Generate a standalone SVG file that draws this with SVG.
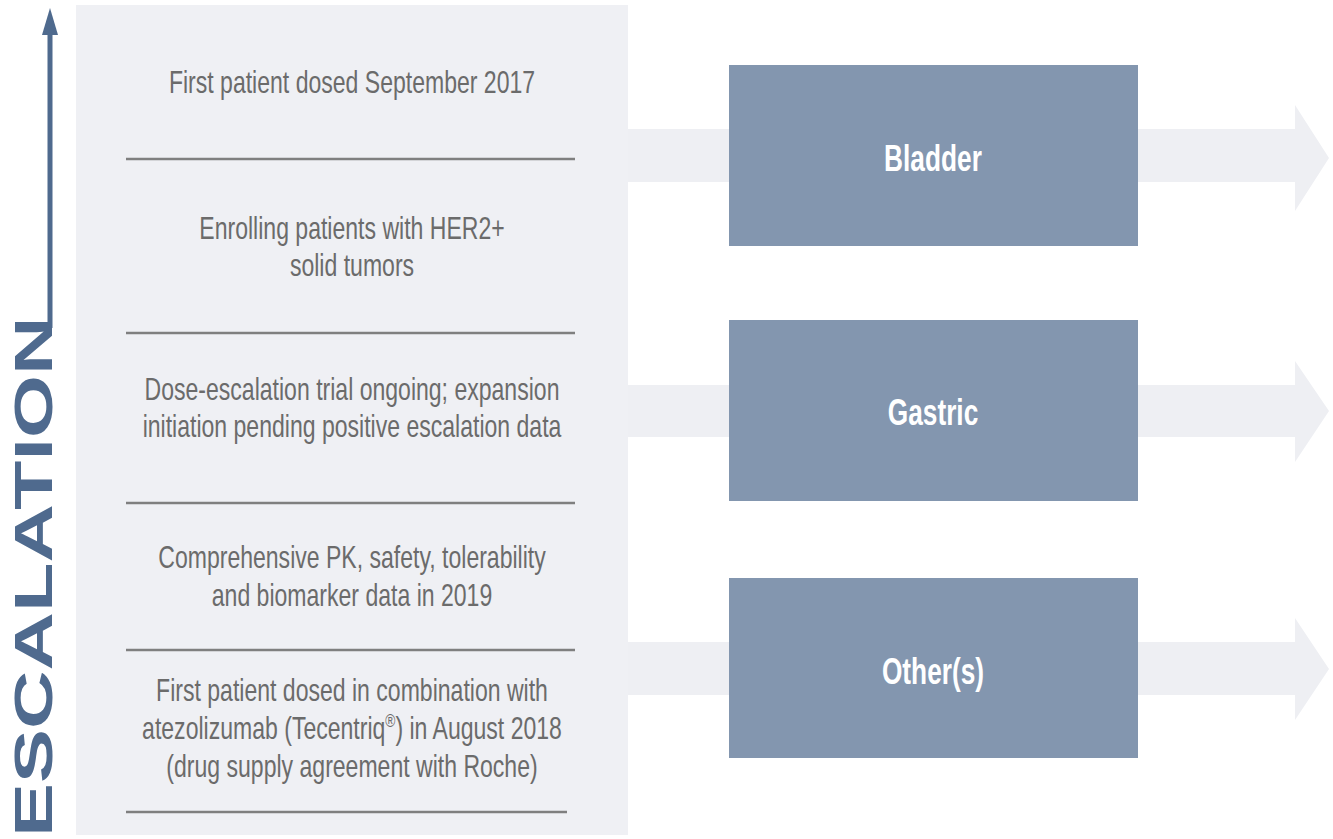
<svg xmlns="http://www.w3.org/2000/svg" width="1333" height="839" viewBox="0 0 1333 839">
<style>
.panel{fill:#eff0f4}
.sep{stroke:#7f7f7f;stroke-width:2.5;fill:none}
.desc{font-family:"Liberation Sans",Arial,sans-serif;font-size:32px;fill:#6b6b6b;text-anchor:middle}
.box{fill:#8396af}
.lbl{font-family:"Liberation Sans",Arial,sans-serif;font-size:37px;font-weight:bold;fill:#ffffff;text-anchor:middle}
.band{fill:#eeeff3}
.esc{font-family:"Liberation Sans",Arial,sans-serif;font-size:81px;font-weight:bold;fill:#4f6a8e}
</style>
<rect width="1333" height="839" fill="#ffffff"/>
<g id="connectors">
  <polygon class="band" points="628,129 1295,129 1295,105 1329,158 1295,211 1295,182 628,182"/>
  <polygon class="band" points="628,385 1295,385 1295,361 1329,411 1295,462 1295,437 628,437"/>
  <polygon class="band" points="628,642 1295,642 1295,618 1329,669 1295,720 1295,695 628,695"/>
  <line x1="50" y1="328" x2="50" y2="30" stroke="#4f6a8e" stroke-width="5"/>
  <polygon points="42,35 58,35 50,8" fill="#4f6a8e"/>
</g>
<g id="escalation-label">
  <text class="esc" transform="translate(52,837) rotate(-90) scale(1,0.67)">ESCALATION</text>
</g>
<g id="milestones">
  <rect class="panel" x="76" y="5" width="552" height="830"/>
  <g id="m1">
    <g transform="translate(352,0) scale(0.72,1)"><text class="desc" x="0" y="93">First patient dosed September 2017</text></g>
    <line class="sep" x1="126" y1="159" x2="575" y2="159"/>
  </g>
  <g id="m2">
    <g transform="translate(352,0) scale(0.72,1)"><text class="desc" x="0" y="239">Enrolling patients with HER2+</text><text class="desc" x="0" y="276">solid tumors</text></g>
    <line class="sep" x1="126" y1="333" x2="575" y2="333"/>
  </g>
  <g id="m3">
    <g transform="translate(352,0) scale(0.72,1)"><text class="desc" x="0" y="400">Dose-escalation trial ongoing; expansion</text><text class="desc" x="0" y="437">initiation pending positive escalation data</text></g>
    <line class="sep" x1="126" y1="503" x2="575" y2="503"/>
  </g>
  <g id="m4">
    <g transform="translate(352,0) scale(0.72,1)"><text class="desc" x="0" y="568">Comprehensive PK, safety, tolerability</text><text class="desc" x="0" y="606">and biomarker data in 2019</text></g>
    <line class="sep" x1="126" y1="650" x2="575" y2="650"/>
  </g>
  <g id="m5">
    <g transform="translate(352,0) scale(0.72,1)"><text class="desc" x="0" y="701">First patient dosed in combination with</text><text class="desc" x="0" y="739">atezolizumab (Tecentriq<tspan font-size="19" dy="-12">®</tspan><tspan dy="12">) in August 2018</tspan></text><text class="desc" x="0" y="777">(drug supply agreement with Roche)</text></g>
    <line class="sep" x1="126" y1="812" x2="567" y2="812"/>
  </g>
</g>
<g id="bladder">
  <rect class="box" x="729" y="65" width="409" height="181"/>
  <g transform="translate(933,0) scale(0.71,1)"><text class="lbl" x="0" y="171">Bladder</text></g>
</g>
<g id="gastric">
  <rect class="box" x="729" y="320" width="409" height="181"/>
  <g transform="translate(933,0) scale(0.71,1)"><text class="lbl" x="0" y="425">Gastric</text></g>
</g>
<g id="others">
  <rect class="box" x="729" y="578" width="409" height="180"/>
  <g transform="translate(933,0) scale(0.71,1)"><text class="lbl" x="0" y="684">Other(s)</text></g>
</g>
</svg>
